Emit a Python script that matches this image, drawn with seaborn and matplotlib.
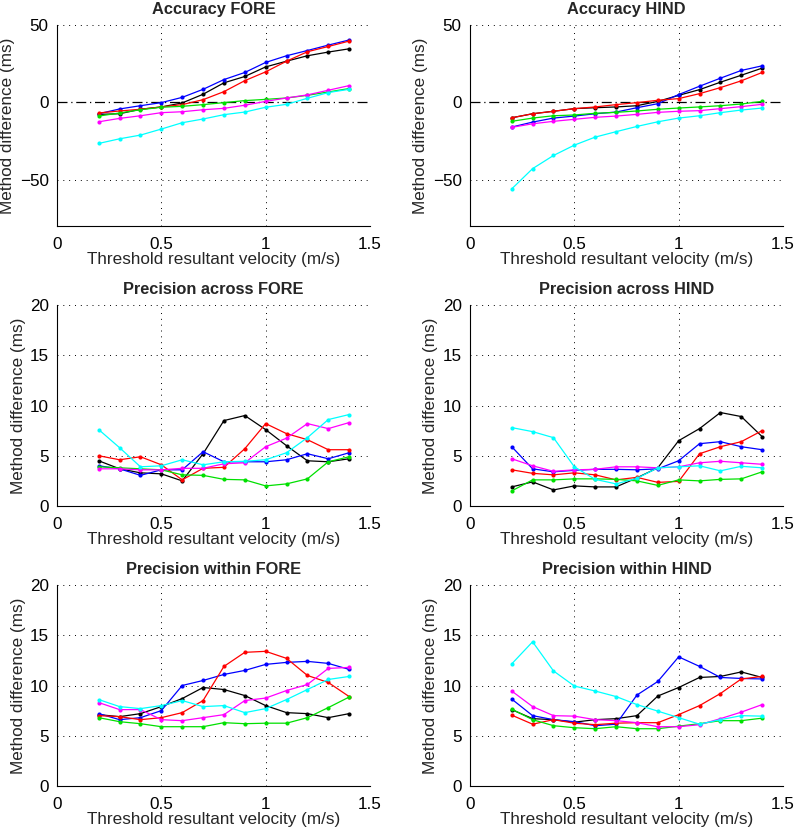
import numpy as np
import pandas as pd
import matplotlib
matplotlib.use("Agg")
import matplotlib.pyplot as plt
import seaborn as sns

# threshold velocities (m/s)
velocity = [0.2, 0.3, 0.4, 0.5, 0.6, 0.7, 0.8, 0.9, 1.0, 1.1, 1.2, 1.3, 1.4]

series_names = ["black", "blue", "red", "green", "magenta", "cyan"]
series_colors = {"black": "#000000", "blue": "#0000ff", "red": "#ff0000",
                 "green": "#00e000", "magenta": "#ff00ff", "cyan": "#00ffff"}

# Accuracy FORE
acc_fore = {
    "black":   [-7.8, -7.4, -4.5, -3.0, -0.4, 5.2, 12.6, 16.7, 22.9, 26.6, 30.1, 32.5, 34.6],
    "blue":    [-7.4, -4.3, -2.2, -0.2, 3.2, 8.4, 14.7, 19.3, 25.8, 30.1, 33.5, 37.0, 40.3],
    "red":     [-6.9, -5.6, -4.5, -3.0, -1.5, 1.7, 6.9, 14.0, 19.7, 26.6, 32.7, 36.1, 39.6],
    "green":   [-8.9, -6.9, -4.8, -3.2, -2.6, -1.5, -0.2, 1.1, 1.9, 2.8, 4.5, 6.7, 8.9],
    "magenta": [-12.6, -10.4, -8.7, -6.7, -6.1, -4.8, -3.9, -1.9, 0.6, 2.8, 4.8, 7.8, 10.8],
    "cyan":    [-26.6, -23.6, -21.2, -17.3, -13.2, -10.8, -8.0, -6.3, -3.2, -1.3, 2.6, 6.3, 8.4],
}

# Accuracy HIND
acc_hind = {
    "black":   [-10.0, -7.4, -5.8, -4.1, -3.5, -3.0, -2.2, 0.6, 4.5, 8.2, 13.0, 17.5, 22.1],
    "blue":    [-16.0, -12.8, -10.2, -8.9, -7.4, -6.3, -3.5, -0.9, 5.0, 10.4, 15.6, 20.6, 23.6],
    "red":     [-10.0, -7.4, -5.8, -4.1, -3.0, -1.5, -0.2, 1.3, 2.4, 5.6, 9.5, 13.9, 19.3],
    "green":   [-12.3, -10.2, -8.7, -8.2, -7.1, -6.5, -5.6, -4.5, -3.7, -3.0, -2.2, -1.1, 0.6],
    "magenta": [-16.2, -13.9, -12.3, -11.0, -9.7, -8.9, -7.8, -6.5, -5.8, -5.4, -4.1, -2.8, -1.3],
    "cyan":    [-56.0, -42.9, -34.4, -27.7, -22.5, -19.0, -15.6, -12.6, -10.2, -8.7, -6.7, -5.0, -3.7],
}

# Precision across FORE
across_fore = {
    "black":   [4.5, 3.7, 3.3, 3.2, 2.5, 5.2, 8.5, 9.0, 7.6, 6.0, 4.5, 4.4, 4.7],
    "blue":    [4.0, 3.7, 3.05, 3.6, 3.6, 5.4, 4.4, 4.4, 4.4, 4.6, 5.2, 4.7, 5.3],
    "red":     [5.0, 4.6, 4.9, 4.1, 2.6, 3.75, 3.85, 5.7, 8.2, 7.2, 6.6, 5.6, 5.6],
    "green":   [3.9, 3.8, 3.7, 3.6, 3.1, 3.05, 2.65, 2.6, 2.0, 2.2, 2.7, 4.4, 4.9],
    "magenta": [3.7, 3.7, 3.6, 3.6, 3.75, 3.75, 4.2, 4.3, 5.9, 6.75, 8.2, 7.7, 8.3],
    "cyan":    [7.6, 5.8, 3.9, 4.0, 4.6, 4.1, 4.4, 4.45, 4.6, 5.3, 6.8, 8.6, 9.1],
}

# Precision across HIND
across_hind = {
    "black":   [1.9, 2.4, 1.6, 2.0, 1.9, 1.9, 2.8, 3.8, 6.5, 7.7, 9.3, 8.9, 6.9],
    "blue":    [5.9, 3.7, 3.4, 3.55, 3.65, 3.65, 3.6, 3.7, 4.5, 6.2, 6.4, 5.9, 5.6],
    "red":     [3.6, 3.25, 3.1, 3.3, 3.1, 2.6, 2.85, 2.35, 2.45, 5.2, 5.9, 6.4, 7.5],
    "green":   [1.5, 2.6, 2.6, 2.7, 2.7, 2.65, 2.5, 2.05, 2.6, 2.5, 2.65, 2.7, 3.4],
    "magenta": [4.7, 4.0, 3.45, 3.6, 3.65, 3.9, 3.9, 3.8, 3.9, 4.3, 4.45, 4.3, 4.15],
    "cyan":    [7.8, 7.4, 6.8, 3.9, 2.65, 2.2, 2.75, 3.8, 3.9, 4.0, 3.5, 3.95, 3.8],
}

# Precision within FORE
within_fore = {
    "black":   [7.1, 6.9, 7.2, 7.9, 8.7, 9.8, 9.6, 9.0, 8.0, 7.3, 7.2, 6.8, 7.2],
    "blue":    [7.2, 6.6, 6.8, 7.5, 10.0, 10.5, 11.1, 11.5, 12.1, 12.3, 12.4, 12.2, 11.6],
    "red":     [7.0, 6.9, 6.6, 6.8, 7.3, 8.5, 11.9, 13.3, 13.4, 12.7, 11.0, 10.3, 8.9],
    "green":   [6.8, 6.4, 6.2, 5.9, 5.9, 5.9, 6.3, 6.2, 6.25, 6.25, 6.8, 7.8, 8.85],
    "magenta": [8.3, 7.6, 7.6, 6.6, 6.5, 6.8, 7.1, 8.5, 8.75, 9.5, 10.1, 11.7, 11.8],
    "cyan":    [8.6, 7.9, 7.7, 8.0, 8.5, 7.9, 8.0, 7.3, 7.7, 8.6, 9.6, 10.6, 10.9],
}

# Precision within HIND
within_hind = {
    "black":   [7.6, 6.7, 6.6, 6.35, 6.6, 6.7, 7.0, 8.95, 9.8, 10.8, 10.9, 11.35, 10.8],
    "blue":    [8.65, 7.0, 6.6, 6.4, 6.0, 6.15, 9.05, 10.4, 12.85, 11.9, 10.8, 10.7, 10.65],
    "red":     [7.05, 6.15, 6.6, 6.25, 6.1, 6.25, 6.3, 6.3, 7.1, 8.0, 9.2, 10.65, 10.9],
    "green":   [7.65, 6.6, 6.0, 5.8, 5.7, 5.9, 5.7, 5.7, 5.95, 6.2, 6.5, 6.5, 6.75],
    "magenta": [9.45, 7.9, 7.0, 6.95, 6.6, 6.5, 6.3, 5.9, 5.9, 6.1, 6.7, 7.35, 8.1],
    "cyan":    [12.15, 14.35, 11.45, 9.95, 9.45, 8.9, 8.1, 7.45, 6.8, 6.15, 6.6, 7.0, 6.95],
}

panels = [
    ("Accuracy FORE", acc_fore, "acc"),
    ("Accuracy HIND", acc_hind, "acc"),
    ("Precision across FORE", across_fore, "prec"),
    ("Precision across HIND", across_hind, "prec"),
    ("Precision within FORE", within_fore, "prec"),
    ("Precision within HIND", within_hind, "prec"),
]


def to_long(data):
    rows = []
    for name in series_names:
        for v, y in zip(velocity, data[name]):
            rows.append({"velocity": v, "diff": y, "series": name})
    return pd.DataFrame(rows)


sns.set_style("white")
plt.rcParams["font.family"] = ["Liberation Sans", "DejaVu Sans"]

fig = plt.figure(figsize=(7.94, 8.31), dpi=100)

W, H = 794, 831
lefts = [57, 470]
tops = [25, 305, 585]
ax_w, ax_h = 313, 201

for i, (title, data, kind) in enumerate(panels):
    row, col = divmod(i, 2)
    x0 = lefts[col] / W
    y0 = 1 - (tops[row] + ax_h) / H
    ax = fig.add_axes([x0, y0, ax_w / W, ax_h / H])

    df = to_long(data)
    sns.lineplot(data=df, x="velocity", y="diff", hue="series",
                 palette=series_colors, hue_order=series_names,
                 marker="o", markersize=3, markeredgewidth=0,
                 linewidth=0.9, legend=False, ax=ax)

    ax.set_xlim(0, 1.5)
    ax.set_xticks([0, 0.5, 1, 1.5])
    ax.set_xticklabels(["0", "0.5", "1", "1.5"])
    if kind == "acc":
        ax.set_ylim(-80, 50)
        ax.set_yticks([-50, 0, 50])
        ax.axhline(0, color="black", linestyle="-.", linewidth=0.9, dashes=(8, 3, 1, 3), zorder=1)
    else:
        ax.set_ylim(0, 20)
        ax.set_yticks([0, 5, 10, 15, 20])

    # dotted grid lines, MATLAB style
    for xv in [0.5, 1.0, 1.5]:
        ax.axvline(xv, color="black", linestyle=(0, (1, 5)), linewidth=0.7, zorder=0)
    for yv in ax.get_yticks():
        if kind == "acc" and yv == 0:
            continue
        if yv == ax.get_ylim()[0]:
            continue
        ax.axhline(yv, color="black", linestyle=(0, (1, 5)), linewidth=0.7, zorder=0)

    for side in ["top", "right"]:
        ax.spines[side].set_visible(False)
    for side in ["left", "bottom"]:
        ax.spines[side].set_color("black")
        ax.spines[side].set_linewidth(0.8)

    ax.tick_params(axis="both", direction="in", length=3, width=0.6,
                   labelsize=12.3, colors="black")
    ax.tick_params(axis="x", pad=8)
    ax.tick_params(axis="y", pad=6)
    ax.set_title(title, fontsize=11.8, fontweight="bold", pad=8)
    ax.set_xlabel("Threshold resultant velocity (m/s)", fontsize=12.3, labelpad=0)
    ax.set_ylabel("Method difference (ms)", fontsize=12.3, labelpad=3)

fig.savefig("out.png", dpi=100)
